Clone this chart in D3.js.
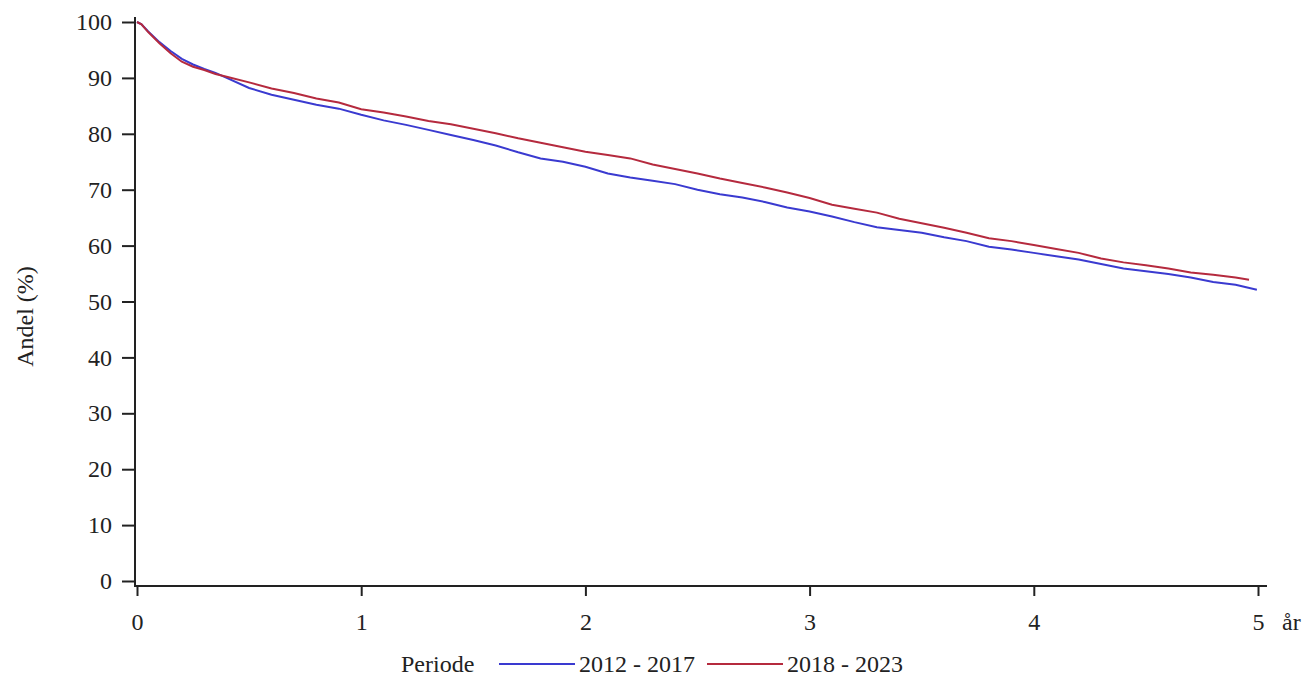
<!DOCTYPE html>
<html>
<head>
<meta charset="utf-8">
<script src="https://cdn.jsdelivr.net/npm/d3@7"></script>
<style>
  body { margin: 0; background: #fff; }
  svg text { font-family: "Liberation Serif", "DejaVu Serif", serif !important; fill: #222; }
</style>
</head>
<body>
<div id="chart"></div>
<script>
const width = 1310;
const height = 686;

// Survival data (years, percent)
const years = [0, 0.02, 0.05, 0.1, 0.15, 0.2, 0.25, 0.3, 0.35, 0.4, 0.5, 0.6, 0.7, 0.8, 0.9,
  1.0, 1.1, 1.2, 1.3, 1.4, 1.5, 1.6, 1.7, 1.8, 1.9, 2.0, 2.1, 2.2, 2.3, 2.4, 2.5, 2.6, 2.7, 2.8, 2.9,
  3.0, 3.1, 3.2, 3.3, 3.4, 3.5, 3.6, 3.7, 3.8, 3.9, 4.0, 4.1, 4.2, 4.3, 4.4, 4.5, 4.6, 4.7, 4.8, 4.9];

const blueValues = [100, 99.6, 98.3, 96.4, 94.8, 93.4, 92.4, 91.6, 90.9, 90.0, 88.2, 87.0, 86.1, 85.2, 84.5,
  83.4, 82.4, 81.6, 80.7, 79.8, 78.9, 77.9, 76.7, 75.6, 75.0, 74.1, 72.9, 72.2, 71.6, 71.0, 70.0, 69.2, 68.6, 67.8, 66.8,
  66.1, 65.2, 64.2, 63.3, 62.8, 62.3, 61.5, 60.8, 59.8, 59.3, 58.7, 58.1, 57.5, 56.7, 55.9, 55.4, 54.9, 54.3, 53.5, 53.0];
const blueEnd = [4.995, 52.1];

const redValues = [100, 99.6, 98.2, 96.2, 94.4, 92.9, 92.0, 91.4, 90.7, 90.2, 89.2, 88.1, 87.3, 86.3, 85.6,
  84.4, 83.8, 83.1, 82.3, 81.7, 80.9, 80.1, 79.2, 78.4, 77.6, 76.8, 76.2, 75.6, 74.5, 73.7, 72.9, 72.0, 71.2, 70.4, 69.5,
  68.5, 67.3, 66.6, 65.9, 64.8, 64.0, 63.2, 62.3, 61.3, 60.8, 60.1, 59.4, 58.7, 57.7, 57.0, 56.5, 55.9, 55.2, 54.8, 54.3];
const redEnd = [4.96, 53.9];

const seriesNames = ["2012 - 2017", "2018 - 2023"];
const colors = ["#3a3ad0", "#b52a3e"];

const yTicks = [0, 10, 20, 30, 40, 50, 60, 70, 80, 90, 100];
const xTicks = [0, 1, 2, 3, 4, 5];

const series = [
  years.map((t, i) => [t, blueValues[i]]).concat([blueEnd]),
  years.map((t, i) => [t, redValues[i]]).concat([redEnd])
];

const fontSize = "24px";

const svg = d3.select("#chart").append("svg")
  .attr("width", width)
  .attr("height", height);

const x = d3.scaleLinear().domain([0, 5]).range([137, 1258]);
const y = d3.scaleLinear().domain([0, 100]).range([581, 22]);

const axisX = 135;
const axisY = 586;

// y axis
const gy = svg.append("g")
  .attr("transform", `translate(${axisX},0)`)
  .call(d3.axisLeft(y).tickValues(yTicks).tickFormat(d3.format("d")).tickSize(13).tickPadding(10));
gy.attr("font-family", null);
gy.select(".domain").remove();
gy.selectAll(".tick line").attr("stroke", "#222").attr("stroke-width", 2);
gy.selectAll(".tick text").style("font-size", fontSize).attr("fill", "#222");

// x axis
const gx = svg.append("g")
  .attr("transform", `translate(0,${axisY})`)
  .call(d3.axisBottom(x).tickValues(xTicks).tickFormat(d3.format("d")).tickSize(10).tickPadding(17));
gx.attr("font-family", null);
gx.select(".domain").remove();
gx.selectAll(".tick line").attr("stroke", "#222").attr("stroke-width", 2);
gx.selectAll(".tick text").style("font-size", fontSize).attr("fill", "#222");

// axis lines
svg.append("line")
  .attr("x1", axisX).attr("x2", axisX)
  .attr("y1", axisY + 1).attr("y2", y(100) - 5)
  .attr("stroke", "#222").attr("stroke-width", 2);
svg.append("line")
  .attr("x1", axisX - 1).attr("x2", x(5) + 9)
  .attr("y1", axisY).attr("y2", axisY)
  .attr("stroke", "#222").attr("stroke-width", 2);

// x unit label
svg.append("text")
  .attr("x", x(5) + 24)
  .attr("y", 630)
  .style("font-size", fontSize)
  .text("år");

// y title
svg.append("text")
  .attr("transform", `translate(33, ${(y(0) + y(100)) / 2 + 15}) rotate(-90)`)
  .style("text-anchor", "middle")
  .style("font-size", fontSize)
  .text("Andel (%)");

// curves
const line = d3.line()
  .x(d => x(d[0]))
  .y(d => y(d[1]));

svg.selectAll("path.curve")
  .data(series)
  .join("path")
  .attr("class", "curve")
  .attr("d", line)
  .attr("fill", "none")
  .attr("stroke", (d, i) => colors[i])
  .attr("stroke-width", 2);

// legend
const legendY = 664;
svg.append("text")
  .attr("x", 401)
  .attr("y", legendY + 8)
  .style("font-size", fontSize)
  .text("Periode");

const legendStarts = [499, 707];
seriesNames.forEach((name, i) => {
  svg.append("line")
    .attr("x1", legendStarts[i]).attr("x2", legendStarts[i] + 76)
    .attr("y1", legendY).attr("y2", legendY)
    .attr("stroke", colors[i]).attr("stroke-width", 2);
  svg.append("text")
    .attr("x", legendStarts[i] + 80)
    .attr("y", legendY + 8)
    .style("font-size", fontSize)
    .text(name);
});
</script>
</body>
</html>
